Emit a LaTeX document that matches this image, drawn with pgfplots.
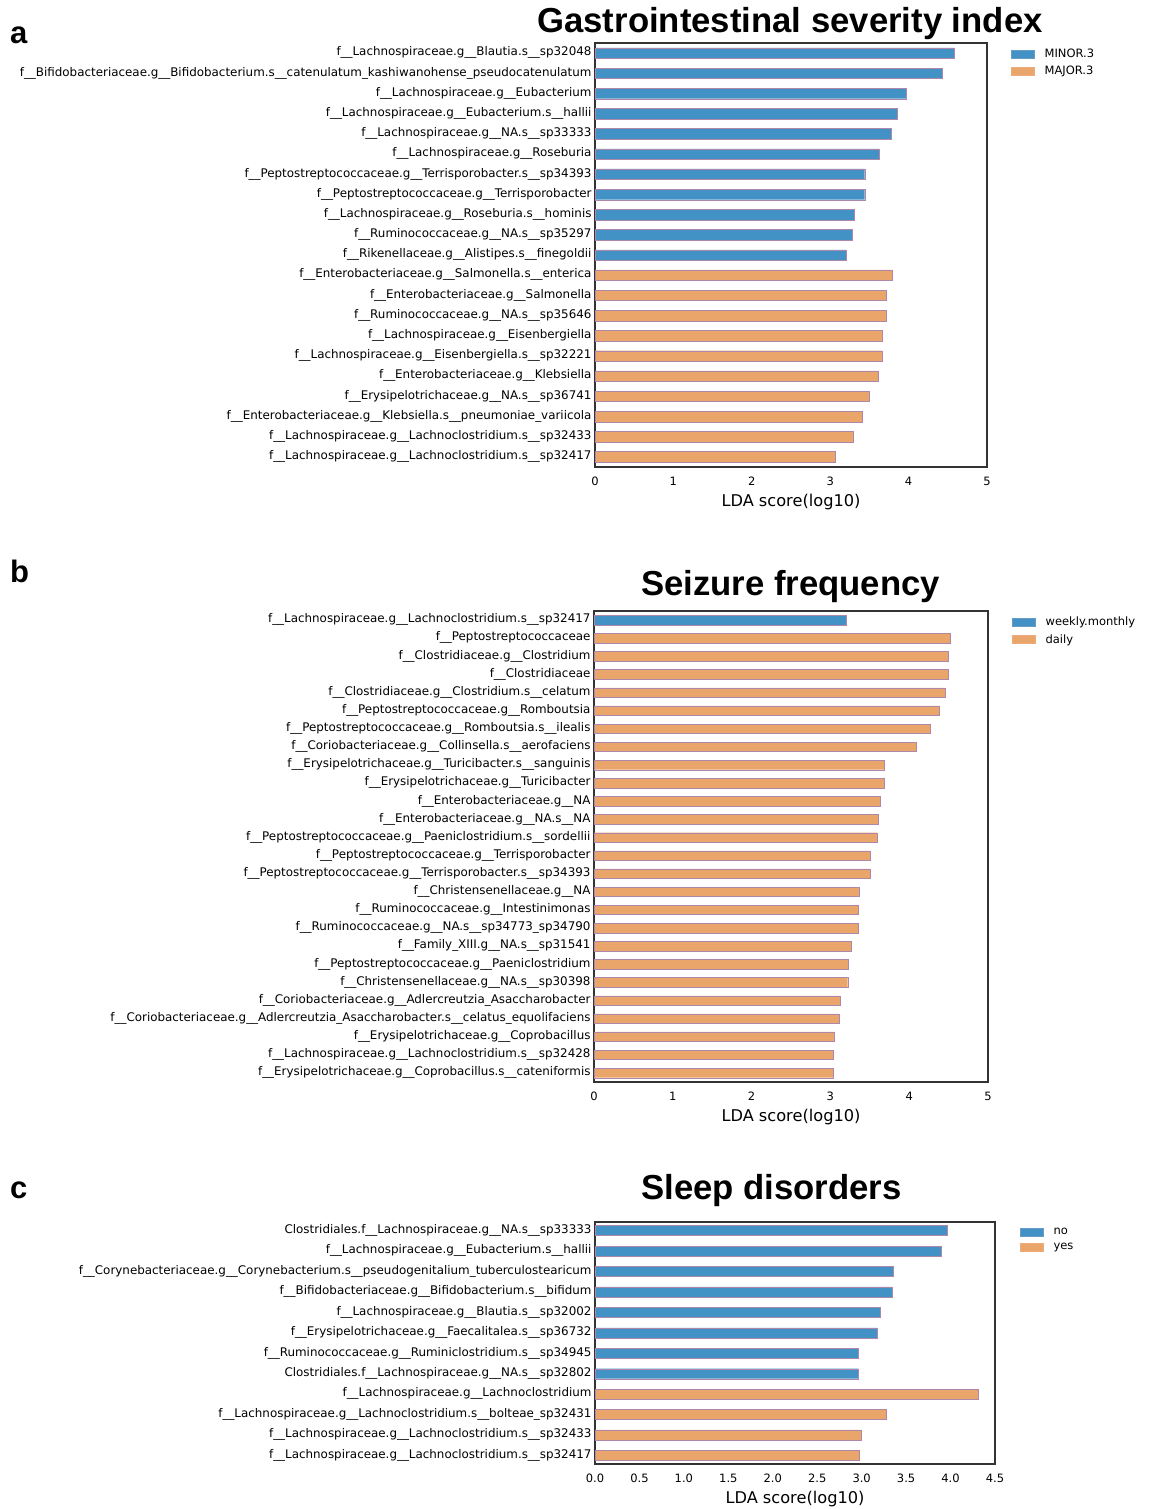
\documentclass[border=0pt]{standalone}
\usepackage{fontspec}
\setmainfont{DejaVu Sans}
\newfontfamily\titlefont{Liberation Sans}
\usepackage{pgfplots}
\pgfplotsset{compat=1.18}
\definecolor{lblue}{RGB}{66,146,198}
\definecolor{lorange}{RGB}{234,166,106}
\definecolor{edgec}{RGB}{175,135,170}
\pgfplotsset{
  lefse/.style={
    scale only axis, xbar, y dir=reverse, xmin=0,
    axis line style={line width=1.4pt, black!80},
    major tick length=0pt,
    tick label style={font=\fontsize{11.5}{13}\selectfont},
    yticklabel style={font=\fontsize{11.9}{14}\selectfont},
    typeset ticklabels with strut,
    /pgf/number format/assume math mode=true,
    xticklabel style={anchor=center, yshift=-16pt},
    xlabel={LDA score(log10)},
    xlabel style={font=\fontsize{16.2}{19}\selectfont, at={(axis description cs:0.5,0)}, anchor=center, yshift=-35pt},
    legend style={at={(1,1)}, anchor=north west, draw=none, fill=none, xshift=21pt, yshift=-2pt,
      font=\fontsize{11.5}{13}\selectfont, row sep=3pt,
      /tikz/every odd column/.append style={column sep=8pt}},
    legend cell align=left,
  },
  bl/.style={xbar, bar shift=0pt, fill=lblue, draw=edgec, line width=0.35pt,
    legend image code/.code={\draw[fill=lblue, draw=lblue!80!pink, line width=0.4pt] (0pt,-4pt) rectangle (23pt,4pt);}},
  or/.style={xbar, bar shift=0pt, fill=lorange, draw=edgec, line width=0.35pt,
    legend image code/.code={\draw[fill=lorange, draw=lorange!80!pink, line width=0.4pt] (0pt,-4pt) rectangle (23pt,4pt);}},
}
\begin{document}
\begin{tikzpicture}
\useasboundingbox (0pt,0pt) rectangle (1152pt,-1509pt);
% ---------- panel a ----------
\begin{axis}[lefse, at={(595pt,-467pt)}, anchor=south west,
  width=392pt, height=424pt, xmax=5, ymin=-0.5, ymax=20.5,
  bar width=10.5pt, xtick={0,1,2,3,4,5}, ytick={0,...,20},
  yticklabels={
  f\_\_Lachnospiraceae.g\_\_Blautia.s\_\_sp32048,
  f\_\_Bifidobacteriaceae.g\_\_Bifidobacterium.s\_\_catenulatum\_kashiwanohense\_pseudocatenulatum,
  f\_\_Lachnospiraceae.g\_\_Eubacterium,
  f\_\_Lachnospiraceae.g\_\_Eubacterium.s\_\_hallii,
  f\_\_Lachnospiraceae.g\_\_NA.s\_\_sp33333,
  f\_\_Lachnospiraceae.g\_\_Roseburia,
  f\_\_Peptostreptococcaceae.g\_\_Terrisporobacter.s\_\_sp34393,
  f\_\_Peptostreptococcaceae.g\_\_Terrisporobacter,
  f\_\_Lachnospiraceae.g\_\_Roseburia.s\_\_hominis,
  f\_\_Ruminococcaceae.g\_\_NA.s\_\_sp35297,
  f\_\_Rikenellaceae.g\_\_Alistipes.s\_\_finegoldii,
  f\_\_Enterobacteriaceae.g\_\_Salmonella.s\_\_enterica,
  f\_\_Enterobacteriaceae.g\_\_Salmonella,
  f\_\_Ruminococcaceae.g\_\_NA.s\_\_sp35646,
  f\_\_Lachnospiraceae.g\_\_Eisenbergiella,
  f\_\_Lachnospiraceae.g\_\_Eisenbergiella.s\_\_sp32221,
  f\_\_Enterobacteriaceae.g\_\_Klebsiella,
  f\_\_Erysipelotrichaceae.g\_\_NA.s\_\_sp36741,
  f\_\_Enterobacteriaceae.g\_\_Klebsiella.s\_\_pneumoniae\_variicola,
  f\_\_Lachnospiraceae.g\_\_Lachnoclostridium.s\_\_sp32433,
  f\_\_Lachnospiraceae.g\_\_Lachnoclostridium.s\_\_sp32417}]
\addplot[bl] coordinates {(4.58,0) (4.43,1) (3.97,2) (3.86,3) (3.78,4) (3.62,5) (3.44,6) (3.44,7) (3.31,8) (3.28,9) (3.20,10)};
\addlegendentry{MINOR.3}
\addplot[or] coordinates {(3.79,11) (3.72,12) (3.72,13) (3.66,14) (3.66,15) (3.61,16) (3.50,17) (3.41,18) (3.29,19) (3.06,20)};
\addlegendentry{MAJOR.3}
\end{axis}
% ---------- panel b ----------
\begin{axis}[lefse, at={(594pt,-1082pt)}, anchor=south west,
  width=394pt, height=471pt, xmax=5, ymin=-0.5, ymax=25.5,
  bar width=9.5pt, xtick={0,1,2,3,4,5}, ytick={0,...,25},
  yticklabels={
  f\_\_Lachnospiraceae.g\_\_Lachnoclostridium.s\_\_sp32417,
  f\_\_Peptostreptococcaceae,
  f\_\_Clostridiaceae.g\_\_Clostridium,
  f\_\_Clostridiaceae,
  f\_\_Clostridiaceae.g\_\_Clostridium.s\_\_celatum,
  f\_\_Peptostreptococcaceae.g\_\_Romboutsia,
  f\_\_Peptostreptococcaceae.g\_\_Romboutsia.s\_\_ilealis,
  f\_\_Coriobacteriaceae.g\_\_Collinsella.s\_\_aerofaciens,
  f\_\_Erysipelotrichaceae.g\_\_Turicibacter.s\_\_sanguinis,
  f\_\_Erysipelotrichaceae.g\_\_Turicibacter,
  f\_\_Enterobacteriaceae.g\_\_NA,
  f\_\_Enterobacteriaceae.g\_\_NA.s\_\_NA,
  f\_\_Peptostreptococcaceae.g\_\_Paeniclostridium.s\_\_sordellii,
  f\_\_Peptostreptococcaceae.g\_\_Terrisporobacter,
  f\_\_Peptostreptococcaceae.g\_\_Terrisporobacter.s\_\_sp34393,
  f\_\_Christensenellaceae.g\_\_NA,
  f\_\_Ruminococcaceae.g\_\_Intestinimonas,
  f\_\_Ruminococcaceae.g\_\_NA.s\_\_sp34773\_sp34790,
  f\_\_Family\_XIII.g\_\_NA.s\_\_sp31541,
  f\_\_Peptostreptococcaceae.g\_\_Paeniclostridium,
  f\_\_Christensenellaceae.g\_\_NA.s\_\_sp30398,
  f\_\_Coriobacteriaceae.g\_\_Adlercreutzia\_Asaccharobacter,
  f\_\_Coriobacteriaceae.g\_\_Adlercreutzia\_Asaccharobacter.s\_\_celatus\_equolifaciens,
  f\_\_Erysipelotrichaceae.g\_\_Coprobacillus,
  f\_\_Lachnospiraceae.g\_\_Lachnoclostridium.s\_\_sp32428,
  f\_\_Erysipelotrichaceae.g\_\_Coprobacillus.s\_\_cateniformis}]
\addplot[bl] coordinates {(3.20,0)};
\addlegendentry{weekly.monthly}
\addplot[or] coordinates {(4.52,1) (4.49,2) (4.49,3) (4.46,4) (4.38,5) (4.27,6) (4.09,7) (3.68,8) (3.68,9) (3.63,10) (3.61,11) (3.59,12) (3.50,13) (3.50,14) (3.37,15) (3.35,16) (3.35,17) (3.26,18) (3.23,19) (3.22,20) (3.12,21) (3.11,22) (3.05,23) (3.04,24) (3.03,25)};
\addlegendentry{daily}
\end{axis}
% ---------- panel c ----------
\begin{axis}[lefse, at={(595pt,-1464pt)}, anchor=south west,
  width=400pt, height=242pt, xmax=4.5, ymin=-0.42, ymax=11.42,
  bar width=10pt, xtick={0,0.5,...,4.5}, ytick={0,...,11},
  xticklabel style={/pgf/number format/.cd, fixed, fixed zerofill, precision=1},
  legend style={xshift=1pt},
  yticklabels={
  Clostridiales.f\_\_Lachnospiraceae.g\_\_NA.s\_\_sp33333,
  f\_\_Lachnospiraceae.g\_\_Eubacterium.s\_\_hallii,
  f\_\_Corynebacteriaceae.g\_\_Corynebacterium.s\_\_pseudogenitalium\_tuberculostearicum,
  f\_\_Bifidobacteriaceae.g\_\_Bifidobacterium.s\_\_bifidum,
  f\_\_Lachnospiraceae.g\_\_Blautia.s\_\_sp32002,
  f\_\_Erysipelotrichaceae.g\_\_Faecalitalea.s\_\_sp36732,
  f\_\_Ruminococcaceae.g\_\_Ruminiclostridium.s\_\_sp34945,
  Clostridiales.f\_\_Lachnospiraceae.g\_\_NA.s\_\_sp32802,
  f\_\_Lachnospiraceae.g\_\_Lachnoclostridium,
  f\_\_Lachnospiraceae.g\_\_Lachnoclostridium.s\_\_bolteae\_sp32431,
  f\_\_Lachnospiraceae.g\_\_Lachnoclostridium.s\_\_sp32433,
  f\_\_Lachnospiraceae.g\_\_Lachnoclostridium.s\_\_sp32417}]
\addplot[bl] coordinates {(3.96,0) (3.90,1) (3.36,2) (3.34,3) (3.21,4) (3.17,5) (2.96,6) (2.96,7)};
\addlegendentry{no}
\addplot[or] coordinates {(4.31,8) (3.28,9) (3.00,10) (2.97,11)};
\addlegendentry{yes}
\end{axis}
% ---------- titles and panel letters ----------
\node[anchor=base, inner sep=0pt, font=\titlefont\bfseries\fontsize{34.7}{40}\selectfont] at (790pt,-33pt) {Gastrointestinal severity index};
\node[anchor=base, inner sep=0pt, font=\titlefont\bfseries\fontsize{34.7}{40}\selectfont] at (790.5pt,-595pt) {Seizure frequency};
\node[anchor=base, inner sep=0pt, font=\titlefont\bfseries\fontsize{34.7}{40}\selectfont] at (771.5pt,-1199pt) {Sleep disorders};
\node[anchor=base west, inner sep=0pt, font=\titlefont\bfseries\fontsize{31}{36}\selectfont] at (10pt,-44pt) {a};
\node[anchor=base west, inner sep=0pt, font=\titlefont\bfseries\fontsize{31}{36}\selectfont] at (10pt,-582pt) {b};
\node[anchor=base west, inner sep=0pt, font=\titlefont\bfseries\fontsize{31}{36}\selectfont] at (10pt,-1198pt) {c};
\end{tikzpicture}
\end{document}
